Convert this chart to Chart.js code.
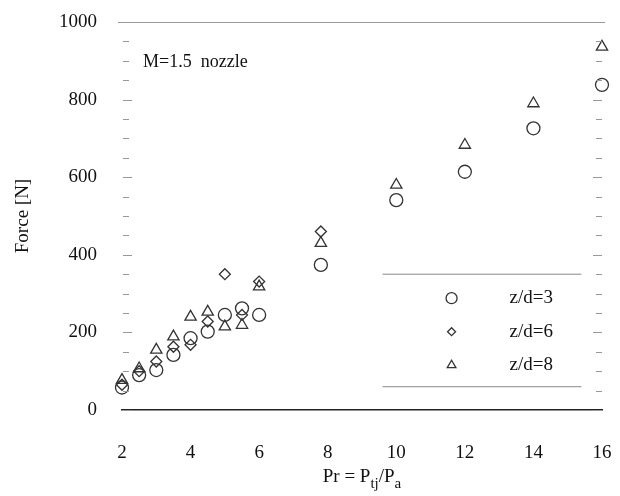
<!DOCTYPE html>
<html>
<head>
<meta charset="utf-8">
<script src="https://cdn.jsdelivr.net/npm/chart.js@4/dist/chart.umd.min.js"></script>
<style>
  html, body { margin: 0; padding: 0; background: #fff; }
  #wrap { width: 620px; height: 496px; }
</style>
</head>
<body>
<div id="wrap"><canvas id="forceChart"></canvas></div>
<script>
// pressure ratio Pr for each measurement
const prLow  = [2, 2.5, 3, 3.5, 4, 4.5, 5, 5.5, 6, 7.8];
const prFull = [2, 2.5, 3, 3.5, 4, 4.5, 5, 5.5, 6, 7.8, 10, 12, 14, 16];

// force [N] per standoff distance
const forceZd3 = [58, 90, 103, 142, 185, 202, 245, 262, 245, 374, 541, 614, 726, 838];
const forceZd6 = [65, 100, 125, 163, 168, 228, 350, 245, 331, 460];
const forceZd8 = [77, 107, 155, 189, 240, 253, 215, 219, 318, 430, 580, 683, 790, 936];

const seriesLabels = ['z/d=3', 'z/d=6', 'z/d=8'];
const xTicks = [2, 4, 6, 8, 10, 12, 14, 16];
const yMajor = [0, 200, 400, 600, 800, 1000];

const SERIF = "'Liberation Serif', 'DejaVu Serif', serif";
const INK = '#333';

const toPoints = (xs, ys) => ys.map((y, i) => ({ x: xs[i], y }));

// own marker drawing, used by the in-plot legend
function drawMarker(ctx, style, r, x, y) {
    ctx.beginPath();
    if (style === 'circle') {
        ctx.arc(x, y, r, 0, Math.PI * 2);
    } else if (style === 'rectRot') {
        ctx.moveTo(x, y - r);
        ctx.lineTo(x + r, y);
        ctx.lineTo(x, y + r);
        ctx.lineTo(x - r, y);
        ctx.closePath();
    } else if (style === 'triangle') {
        for (let k = 0; k < 3; k++) {
            const a = -Math.PI / 2 + k * 2 * Math.PI / 3;
            const px = x + Math.cos(a) * r, py = y + Math.sin(a) * r;
            k === 0 ? ctx.moveTo(px, py) : ctx.lineTo(px, py);
        }
        ctx.closePath();
    }
    ctx.stroke();
}

// frame line on top, inward ticks on both sides
const frameTicks = {
    id: 'frameTicks',
    afterDraw(chart) {
        const { ctx, chartArea: a } = chart;
        const y = chart.scales.y;
        ctx.save();
        ctx.strokeStyle = '#999';
        ctx.lineWidth = 1;
        ctx.beginPath();
        ctx.moveTo(a.left - 4, a.top + 0.5);
        ctx.lineTo(a.right + 3, a.top + 0.5);
        ctx.stroke();

        y.ticks.forEach(t => {
            const py = Math.round(y.getPixelForValue(t.value)) + 0.5;
            const len = t.value % 200 === 0 ? 9 : 6;
            ctx.beginPath();
            ctx.moveTo(a.left + 1, py);
            ctx.lineTo(a.left + 1 + len, py);
            ctx.moveTo(a.right, py);
            ctx.lineTo(a.right - len, py);
            ctx.stroke();
        });
        ctx.restore();
    }
};

// legend box in the lower right corner + note + x title with subscripts
const annotations = {
    id: 'annotations',
    afterDraw(chart) {
        const { ctx, chartArea: a } = chart;
        const xs = chart.scales.x, ys = chart.scales.y;
        ctx.save();

        // nozzle note
        ctx.fillStyle = '#111';
        ctx.font = '18px ' + SERIF;
        ctx.textBaseline = 'middle';
        ctx.textAlign = 'left';
        ctx.fillText('M=1.5  nozzle', a.left + 21, ys.getPixelForValue(895));

        // legend
        const boxL = xs.getPixelForValue(9.6), boxR = xs.getPixelForValue(15.4);
        const boxT = ys.getPixelForValue(350), boxB = ys.getPixelForValue(60);
        ctx.strokeStyle = '#888';
        ctx.lineWidth = 1;
        ctx.beginPath();
        ctx.moveTo(boxL, boxT); ctx.lineTo(boxR, boxT);
        ctx.moveTo(boxL, boxB); ctx.lineTo(boxR, boxB);
        ctx.stroke();

        const legendR = [5.5, 4, 5];
        chart.data.datasets.forEach((ds, i) => {
            const rowY = boxT + 24 + i * 33.5;
            ctx.strokeStyle = ds.borderColor;
            ctx.lineWidth = ds.borderWidth;
            drawMarker(ctx, ds.pointStyle, legendR[i], boxL + 69, rowY);
            ctx.fillStyle = '#111';
            ctx.font = '19px ' + SERIF;
            ctx.fillText(ds.label, boxL + 127, rowY);
        });

        // x axis title: Pr = P_tj / P_a
        const parts = [
            ['Pr = P', 19, 0], ['tj', 15, 6], ['/P', 19, 0], ['a', 15, 6]
        ];
        let total = 0;
        parts.forEach(p => { ctx.font = p[1] + 'px ' + SERIF; total += ctx.measureText(p[0]).width; });
        let cx = (a.left + a.right) / 2 - total / 2;
        const base = 482;
        ctx.textBaseline = 'alphabetic';
        parts.forEach(p => {
            ctx.font = p[1] + 'px ' + SERIF;
            ctx.fillText(p[0], cx, base + p[2]);
            cx += ctx.measureText(p[0]).width;
        });
        ctx.restore();
    }
};

new Chart(document.getElementById('forceChart'), {
    type: 'scatter',
    data: {
        datasets: [
            {
                label: seriesLabels[0],
                data: toPoints(prFull, forceZd3),
                pointStyle: 'circle',
                pointRadius: 6.5,
                borderColor: INK,
                backgroundColor: 'rgba(0,0,0,0)',
                borderWidth: 1.3,
                clip: false,
            },
            {
                label: seriesLabels[1],
                data: toPoints(prLow, forceZd6),
                pointStyle: 'rectRot',
                pointRadius: 5.5,
                borderColor: INK,
                backgroundColor: 'rgba(0,0,0,0)',
                borderWidth: 1.3,
                clip: false,
            },
            {
                label: seriesLabels[2],
                data: toPoints(prFull, forceZd8),
                pointStyle: 'triangle',
                pointRadius: 6.5,
                borderColor: INK,
                backgroundColor: 'rgba(0,0,0,0)',
                borderWidth: 1.3,
                clip: false,
            },
        ],
    },
    options: {
        responsive: true,
        maintainAspectRatio: false,
        animation: false,
        layout: { padding: { top: 22, right: 18, left: 0, bottom: 0 } },
        plugins: {
            legend: { display: false },
            tooltip: { enabled: false },
        },
        scales: {
            x: {
                type: 'linear',
                min: 2,
                max: 16,
                afterBuildTicks: s => { s.ticks = xTicks.map(v => ({ value: v })); },
                afterFit: s => {
                    s.height = 86;
                    s.paddingLeft = 0;
                    s.paddingRight = 0;
                },
                grid: { display: false, drawTicks: false },
                border: { display: true, color: '#222', width: 1.6 },
                ticks: {
                    padding: 32,
                    color: '#111',
                    font: { family: SERIF, size: 19 },
                },
            },
            y: {
                type: 'linear',
                min: 0,
                max: 1000,
                afterFit: s => {
                    s.width = 122;
                    s.paddingTop = 0;
                    s.paddingBottom = 0;
                },
                grid: { display: false, drawTicks: false },
                border: { display: false },
                title: {
                    display: true,
                    text: 'Force [N]',
                    color: '#111',
                    font: { family: SERIF, size: 19 },
                    padding: { top: 12 },
                },
                ticks: {
                    stepSize: 50,
                    autoSkip: false,
                    padding: 25,
                    color: '#111',
                    font: { family: SERIF, size: 19 },
                    callback: v => yMajor.includes(v) ? v : '',
                },
            },
        },
    },
    plugins: [frameTicks, annotations],
});
</script>
</body>
</html>
